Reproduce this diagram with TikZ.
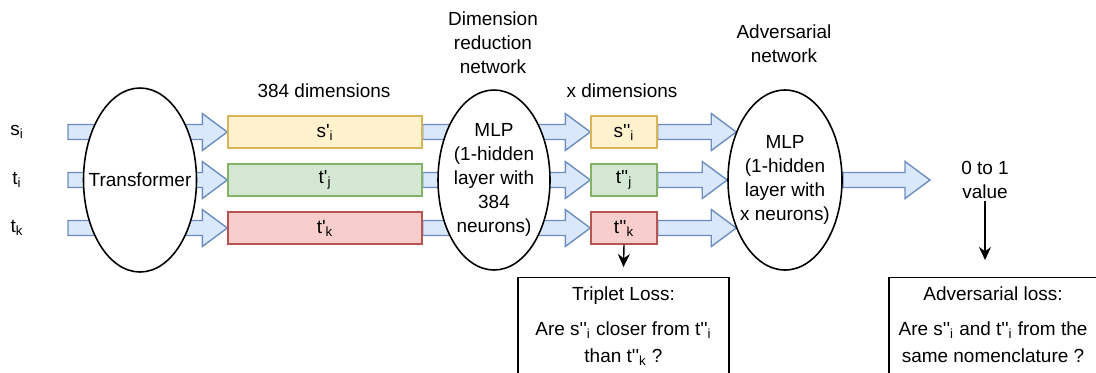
\documentclass[tikz,border=0pt]{standalone}
\usepackage{fontspec}
\setmainfont{Liberation Sans}
\usepackage{tikz}
\usetikzlibrary{shapes.geometric,arrows.meta,positioning,calc,backgrounds}

\definecolor{arrfill}{HTML}{DAE8FC}
\definecolor{arrline}{HTML}{6C8EBF}
\definecolor{yelfill}{HTML}{FFF2CC}
\definecolor{yelline}{HTML}{D6B656}
\definecolor{grnfill}{HTML}{D5E8D4}
\definecolor{grnline}{HTML}{82B366}
\definecolor{redfill}{HTML}{F8CECC}
\definecolor{redline}{HTML}{B85450}

\newcommand{\apos}{\textquotesingle}
% wide block arrow between two points on one row
\newcommand{\fatarrow}[2]{%
  \draw[fat] let \p1=#1, \p2=#2 in
    (\x1,\y1+0.15cm) -- (\x2-0.5cm,\y1+0.15cm) -- (\x2-0.5cm,\y1+0.37cm)
    -- (\x2,\y1) -- (\x2-0.5cm,\y1-0.37cm) -- (\x2-0.5cm,\y1-0.15cm)
    -- (\x1,\y1-0.15cm) -- cycle;}

\begin{document}
\begin{tikzpicture}[
  font=\fontsize{10.8}{13.6}\selectfont,
  fat/.style={draw=arrline, fill=arrfill, line width=0.8pt, line join=miter},
  vec/.style={draw, line width=0.8pt, minimum height=0.64cm, inner sep=0pt},
  big/.style={vec, minimum width=3.88cm},
  small/.style={vec, minimum width=1.32cm},
  net/.style={draw, ellipse, fill=white, line width=0.9pt, inner sep=0pt},
  txt/.style={align=center, inner sep=1pt},
  loss/.style={draw, line width=0.8pt, minimum width=4.22cm,
               minimum height=2.4cm, anchor=north},
  arr/.style={-{Stealth[length=0.26cm, width=0.24cm]}, line width=0.8pt}
]
  \useasboundingbox (0,0) rectangle (21.92,-7.44);

  % inputs
  \node (si) at (0.34,-2.64) {s\textsubscript{i}};
  \node (ti) at (0.34,-3.60) {t\textsubscript{i}};
  \node (tk) at (0.34,-4.56) {t\textsubscript{k}};
  \coordinate (in1) at (1.36,-2.64);
  \coordinate (in2) at (1.36,-3.60);
  \coordinate (in3) at (1.36,-4.56);

  \node[net, minimum width=2.26cm, minimum height=3.68cm] (tr) at (2.80,-3.60) {};
  \node[txt] (trt) at (tr) {Transformer};

  % 384 dimensions
  \node[big, fill=yelfill, draw=yelline] (sp)  at (6.50,-2.64) {s\apos\textsubscript{i}};
  \node[big, fill=grnfill, draw=grnline] (tjp) at (6.50,-3.60) {t\apos\textsubscript{j}};
  \node[big, fill=redfill, draw=redline] (tkp) at (6.50,-4.56) {t\apos\textsubscript{k}};
  \node (d384) at (6.48,-1.82) {384 dimensions};

  \node[net, minimum width=2.24cm, minimum height=3.6cm] (dr) at (9.88,-3.60) {};
  \node[txt] (drt) at (dr) {MLP\\ (1-hidden\\layer with\\384\\neurons)};
  \node[txt] (drl) at (9.86,-0.86) {Dimension\\reduction\\network};

  % x dimensions
  \node[small, fill=yelfill, draw=yelline] (spp)  at (12.48,-2.64) {s\apos\apos\textsubscript{i}};
  \node[small, fill=grnfill, draw=grnline] (tjpp) at (12.48,-3.60) {t\apos\apos\textsubscript{j}};
  \node[small, fill=redfill, draw=redline] (tkpp) at (12.48,-4.56) {t\apos\apos\textsubscript{k}};
  \node (dx) at (12.44,-1.82) {x dimensions};

  \node[net, minimum width=2.28cm, minimum height=3.6cm] (adv) at (15.70,-3.60) {};
  \node[txt] (advt) at (adv) {MLP\\ (1-hidden\\layer with\\x neurons)};
  \node[txt] (advl) at (15.68,-0.87) {Adversarial\\network};

  \coordinate (out) at (18.60,-3.60);
  \node[txt] (val) at (19.70,-3.60) {0 to 1\\value};

  % losses
  \node[loss] (trip) at (12.47,-5.54) {};
  \node[txt, below=0.15cm of trip.north] (tript)
       {Triplet Loss:\\[0.22cm] Are s\apos\apos\textsubscript{i} closer from t\apos\apos\textsubscript{i}\\[0.07cm] than t\apos\apos\textsubscript{k} ?};
  \node[loss, minimum width=4.16cm] (advloss) at (19.86,-5.54) {};
  \node[txt, below=0.15cm of advloss.north] (advlosst)
       {Adversarial loss:\\[0.22cm] Are s\apos\apos\textsubscript{i} and t\apos\apos\textsubscript{i} from the\\[0.07cm] same nomenclature ?};

  \draw[arr] (tkpp.south) -- ([yshift=0.2cm]trip.north);
  \draw[arr] (val.south) -- ([yshift=0.34cm]val.south |- advloss.north);

  \begin{scope}[on background layer]
    \fatarrow{(in1)}{(sp.west)}
    \fatarrow{(in2)}{(tjp.west)}
    \fatarrow{(in3)}{(tkp.west)}
    \fatarrow{(sp.east)}{(spp.west)}
    \fatarrow{(tjp.east)}{(tjpp.west)}
    \fatarrow{(tkp.east)}{(tkpp.west)}
    \fatarrow{(spp.east)}{(adv.135)}
    \fatarrow{(tjpp.east)}{(adv.west)}
    \fatarrow{(tkpp.east)}{(adv.225)}
    \fatarrow{(adv.east)}{(out)}
  \end{scope}
\end{tikzpicture}
\end{document}
